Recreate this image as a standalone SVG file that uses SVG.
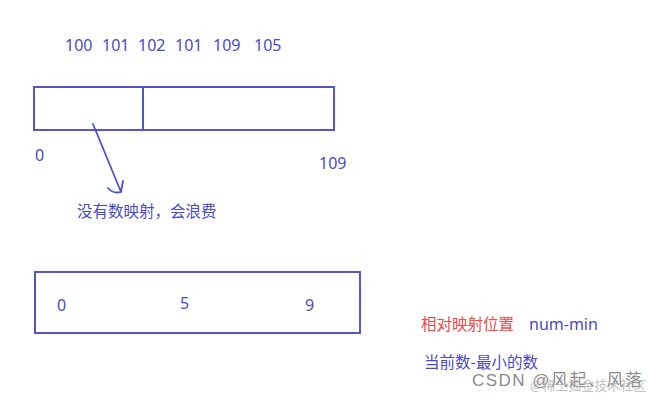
<svg xmlns="http://www.w3.org/2000/svg" width="657" height="400" viewBox="0 0 657 400">
<style>
.t{font-family:"Noto Sans","Noto Sans CJK SC",sans-serif;fill:#4a4ac6;font-size:16px}
.c{font-family:"Noto Sans CJK SC",sans-serif;fill:#4a4ac6;font-size:15.5px}
.box{fill:none;stroke:#5454cc;stroke-width:2}
</style>
<rect width="657" height="400" fill="#ffffff"/>
<g id="top-values">
<text class="t" y="51"><tspan x="65">100</tspan><tspan x="102">101</tspan><tspan x="138">102</tspan><tspan x="175">101</tspan><tspan x="213">109</tspan><tspan x="254">105</tspan></text>
</g>
<g id="range-box">
<rect class="box" x="34" y="87" width="300" height="43"/>
<line class="box" x1="143" y1="87" x2="143" y2="130"/>
<text class="t" x="35" y="161">0</text>
<text class="t" x="319" y="169">109</text>
</g>
<g id="connectors">
<path d="M93,124 L121,192 M108,188 Q113,194 121,192 L123,181" fill="none" stroke="#5050cc" stroke-width="1.8" stroke-linecap="round" stroke-linejoin="round"/>
</g>
<g id="waste-note">
<text class="c" x="77" y="217">没有数映射，会浪费</text>
</g>
<g id="offset-box">
<rect class="box" x="35" y="272" width="325" height="61"/>
<text class="t" x="57" y="311">0</text>
<text class="t" x="180" y="309">5</text>
<text class="t" x="305" y="311">9</text>
</g>
<g id="formula">
<text class="c" x="421" y="330" style="fill:#f04848">相对映射位置</text>
<text class="t" x="529" y="330">num-min</text>
<text class="c" x="424" y="368">当前数-最小的数</text>
</g>
<g id="watermark">
<text x="472" y="386" font-family="'Liberation Sans','Noto Sans CJK SC',sans-serif" font-size="17" fill="#8a8a8a" textLength="170" lengthAdjust="spacing">CSDN @风起、风落</text>
<text x="530" y="390" font-family="'Noto Sans CJK SC',sans-serif" font-size="13" fill="#b4b4b4" opacity="0.8">@稀土掘金技术社区</text>
</g>
</svg>
